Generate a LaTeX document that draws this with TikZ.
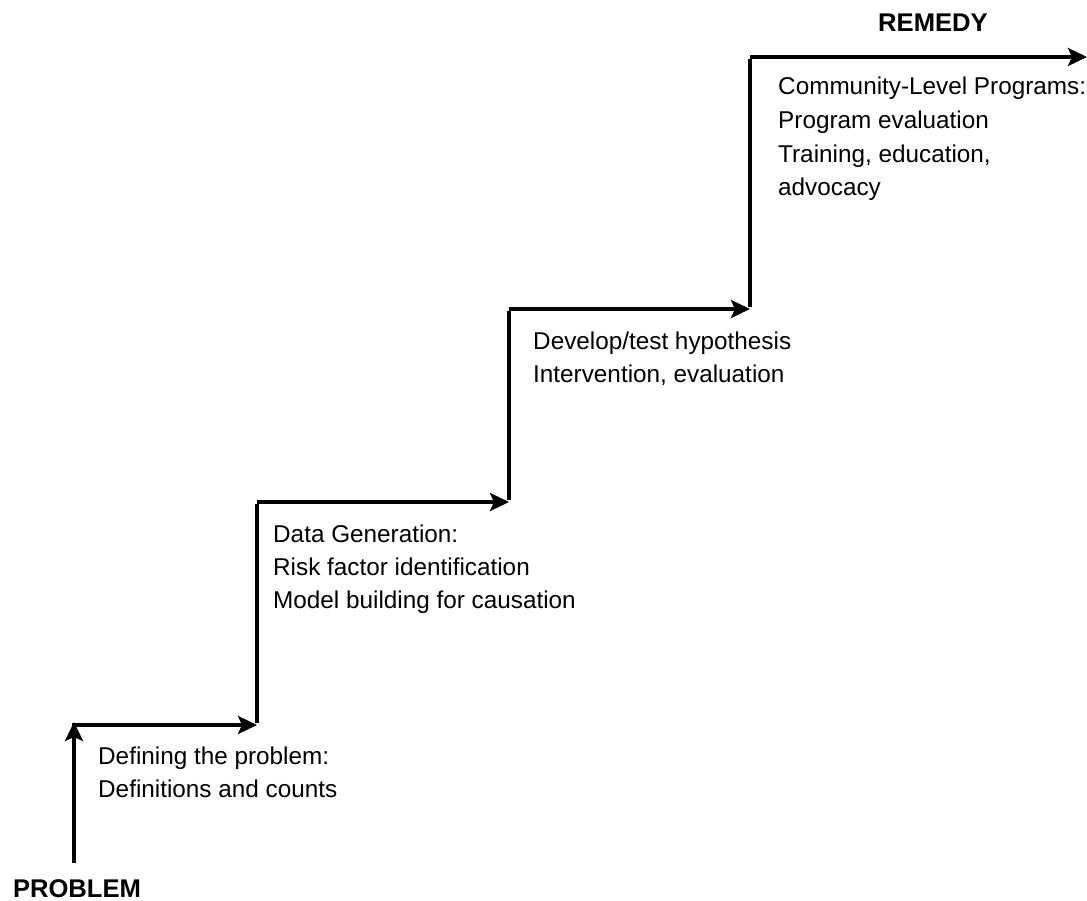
\documentclass[tikz,border=0pt]{standalone}
\usepackage{fontspec}
\setmainfont{Liberation Sans}
\usetikzlibrary{arrows.meta}
\tikzset{
  flow/.style={line width=3.5pt, line cap=butt},
  arr/.style={flow, -{Stealth[length=19pt,width=18pt,inset=4pt]}},
  lbl/.style={anchor=base west, inner sep=0pt, font=\fontsize{24.3}{33}\selectfont},
  endlbl/.style={anchor=base, inner sep=0pt, font=\fontsize{25.6}{33}\selectfont\bfseries},
}
\begin{document}
\begin{tikzpicture}[x=1pt,y=-1pt]
\useasboundingbox (0,0) rectangle (1087,901);
% corners of the staircase
\coordinate (p0) at (74,863);
\coordinate (c1) at (74,725);
\coordinate (t1) at (257,725);
\coordinate (c2) at (257,502);
\coordinate (t2) at (509,502);
\coordinate (c3) at (509,309);
\coordinate (t3) at (750,309);
\coordinate (c4) at (750,57);
\coordinate (t4) at (1087,57);
% staircase
\draw[arr] (p0) -- ([yshift=3pt]c1);
\draw[arr] ([xshift=-1.75pt]c1) -- (t1);
\draw[flow] ([yshift=1.75pt]t1) -- ([yshift=-1.75pt]c2);
\draw[arr] (c2) -- (t2);
\draw[flow] ([yshift=1.75pt]t2) -- ([yshift=-1.75pt]c3);
\draw[arr] (c3) -- (t3);
\draw[flow] ([yshift=1.75pt]t3) -- ([yshift=-1.75pt]c4);
\draw[arr] (c4) -- (t4);
% labels
\node[endlbl] (problem) at (77,897) {PROBLEM};
\node[endlbl] (remedy) at (933,32) {REMEDY};
\node[lbl] (s1a) at (98,764) {Defining the problem:};
\node[lbl] (s1b) at (98,797) {Definitions and counts};
\node[lbl] (s2a) at (273,542) {Data Generation:};
\node[lbl] (s2b) at (273,575) {Risk factor identification};
\node[lbl] (s2c) at (273,608) {Model building for causation};
\node[lbl] (s3a) at (533,349) {Develop/test hypothesis};
\node[lbl] (s3b) at (533,382) {Intervention, evaluation};
\node[lbl] (s4a) at (778,95) {Community-Level Programs:};
\node[lbl] (s4b) at (778,129) {Program evaluation};
\node[lbl] (s4c) at (778,163) {Training, education,};
\node[lbl] (s4d) at (778,196) {advocacy};
\end{tikzpicture}
\end{document}
